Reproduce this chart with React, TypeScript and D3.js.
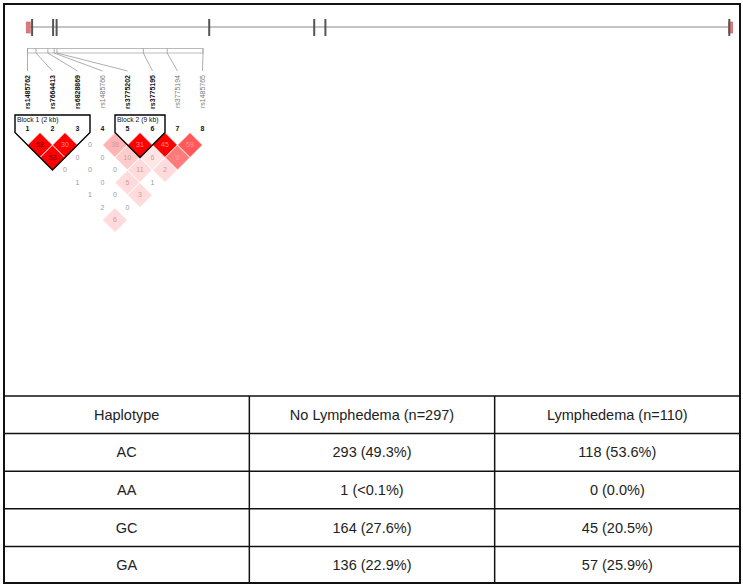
import React from "react";
import * as d3 from "d3";

// gene track (kb along the gene)
const geneFeatures = [0.3, 3.3, 3.8, 25.6, 40.6, 42.2, 99.9];
const geneEnds = [-0.25, 100.1];

// markers
const snpNames = ["rs1485762", "rs7664413", "rs6828869", "rs1485766", "rs3775202", "rs3775195", "rs3775194", "rs1485765"];
const snpPos = [0, 1.2, 2.9, 3.8, 4.2, 16.5, 19.9, 25.0];

// LD values, upper triangle by first marker (r2 x 100)
const ldR2 = [
  [58, 53, 0, 1, 1, 2, 6],
  [30, 0, 0, 0, 0, 0],
  [0, 0, 0, 5, 3],
  [38, 10, 11, 1],
  [31, 6, 2],
  [45, 8],
  [59],
];
// D' shading of each cell (0 = white, 1 = full red)
const ldShade = [
  [1, 1, 0, 0, 0, 0, 0.14],
  [1, 0, 0, 0, 0, 0],
  [0, 0, 0, 0.14, 0.14],
  [0.3, 0.2, 0.14, 0],
  [1, 0.1, 0.14],
  [1, 0.52],
  [0.65],
];

const blockNames = ["Block 1 (2 kb)", "Block 2 (9 kb)"];
const blockFirst = [0, 4];
const blockLast = [2, 5];

// table
const tableHeader = ["Haplotype", "No Lymphedema (n=297)", "Lymphedema (n=110)"];
const haplotypes = ["AC", "AA", "GC", "GA"];
const noLymph = ["293 (49.3%)", "1 (<0.1%)", "164 (27.6%)", "136 (22.9%)"];
const lymph = ["118 (53.6%)", "0 (0.0%)", "45 (20.5%)", "57 (25.9%)"];

const W = 743;
const H = 587;
const font = "'Liberation Sans', Arial, sans-serif";

export default function App() {
  const gx = d3.scaleLinear().domain([0, 100]).range([30, 730]);
  const mx = d3.scaleLinear().domain([0, d3.max(snpPos) as number]).range([27.5, 203]);
  const col = d3.scalePoint<number>().domain(d3.range(snpNames.length)).range([27.5, 202.5]);
  const step = col.step();
  const half = step / 2;
  const ldTop = 132.5;
  const shade = d3.scaleLinear<string>().domain([0, 1]).range(["#ffffff", "#ff0000"]);

  const inBlock = (i: number) => blockFirst.some((f, b) => i >= f && i <= blockLast[b]);

  const cells: { i: number; j: number; r2: number; s: number }[] = [];
  ldR2.forEach((row, i) =>
    row.forEach((v, k) => cells.push({ i, j: i + k + 1, r2: v, s: ldShade[i][k] }))
  );

  const colX = d3.scaleBand().domain(d3.range(3).map(String)).range([4, 740]);
  const rowY = d3.scaleBand().domain(["h", ...haplotypes]).range([396, 584]);
  const rows = [tableHeader, ...haplotypes.map((h, k) => [h, noLymph[k], lymph[k]])];

  return (
    <svg width={W} height={H} style={{ position: "absolute", left: 0, top: 0, background: "#fff" }} fontFamily={font}>
      {/* gene track */}
      <line x1={gx(0)} x2={gx(100)} y1={27} y2={27} stroke="#c4c4c4" strokeWidth={2} />
      {geneEnds.map((e, k) => (
        <rect key={k} x={gx(e) - 2} y={22} width={4} height={11} fill="#e07a7a" stroke="#c46060" strokeWidth={0.6} />
      ))}
      {geneFeatures.map((f, k) => (
        <line key={k} x1={gx(f)} x2={gx(f)} y1={19} y2={36} stroke="#555" strokeWidth={2} />
      ))}

      {/* marker map */}
      <rect x={mx(0)} y={48.5} width={mx(d3.max(snpPos) as number) - mx(0)} height={4.5} fill="#fff" stroke="#aaa" strokeWidth={0.8} />
      {snpPos.map((p, i) => (
        <g key={i}>
          <line x1={mx(p)} x2={mx(p)} y1={48.5} y2={53} stroke="#999" strokeWidth={0.8} />
          <path d={`M${mx(p)},53 L${col(i)},71`} stroke="#999" strokeWidth={0.8} fill="none" />
          <text
            transform={`translate(${(col(i) as number) + 2.4},75) rotate(-90)`}
            textAnchor="end"
            fontSize={7}
            fontWeight={inBlock(i) ? "bold" : "normal"}
            fill={inBlock(i) ? "#111" : "#777"}
          >
            {snpNames[i]}
          </text>
        </g>
      ))}

      {/* LD cells */}
      {cells.map((c) => {
        const cx = ((col(c.i) as number) + (col(c.j) as number)) / 2;
        const cy = ldTop + half * (c.j - c.i);
        const tc = c.s >= 0.5 ? (c.r2 >= 50 && c.s === 1 ? "#5a0000" : "#ff9494") : c.s > 0 ? "#d09a9a" : "#9a9a9a";
        return (
          <g key={`${c.i}-${c.j}`}>
            <path
              d={`M${cx},${cy - half} L${cx + half},${cy} L${cx},${cy + half} L${cx - half},${cy} Z`}
              fill={shade(c.s)}
              stroke="#fff"
              strokeWidth={0.8}
            />
            <text x={cx} y={cy} dy="0.35em" textAnchor="middle" fontSize={7} fill={tc}>
              {c.r2}
            </text>
          </g>
        );
      })}

      {/* blocks */}
      {blockNames.map((name, b) => {
        const x0 = (col(blockFirst[b]) as number) - half;
        const x1 = (col(blockLast[b]) as number) + half;
        const cx = (x0 + x1) / 2;
        const bottom = ldTop + half * (blockLast[b] - blockFirst[b]) + half;
        return (
          <g key={b}>
            <path d={`M${x0},115 H${x1} V${ldTop} L${cx},${bottom} L${x0},${ldTop} Z`} fill="none" stroke="#000" strokeWidth={1.4} />
            <text x={x0 + 2} y={122} fontSize={6.8} fill="#111">
              {name}
            </text>
          </g>
        );
      })}

      {snpNames.map((_, i) => (
        <text key={i} x={col(i)} y={131} textAnchor="middle" fontSize={7} fontWeight="bold" fill="#111">
          {i + 1}
        </text>
      ))}

      {/* table */}
      {rows.map((r, ri) => {
        const key = ri === 0 ? "h" : haplotypes[ri - 1];
        const y = (rowY(key) as number) + rowY.bandwidth() / 2;
        return r.map((t, ci) => (
          <text key={`${ri}-${ci}`} x={(colX(String(ci)) as number) + colX.bandwidth() / 2} y={y} dy="0.35em" textAnchor="middle" fontSize={14.5} fill="#222">
            {t}
          </text>
        ));
      })}
      {rowY.domain().map((k) => (
        <line key={k} x1={4} x2={740} y1={rowY(k)} y2={rowY(k)} stroke="#111" strokeWidth={1.5} />
      ))}
      {[1, 2].map((k) => (
        <line key={k} x1={colX(String(k))} x2={colX(String(k))} y1={396} y2={584} stroke="#111" strokeWidth={1.5} />
      ))}

      {/* frame */}
      <rect x={4} y={4} width={736} height={579} fill="none" stroke="#111" strokeWidth={2} />
    </svg>
  );
}
